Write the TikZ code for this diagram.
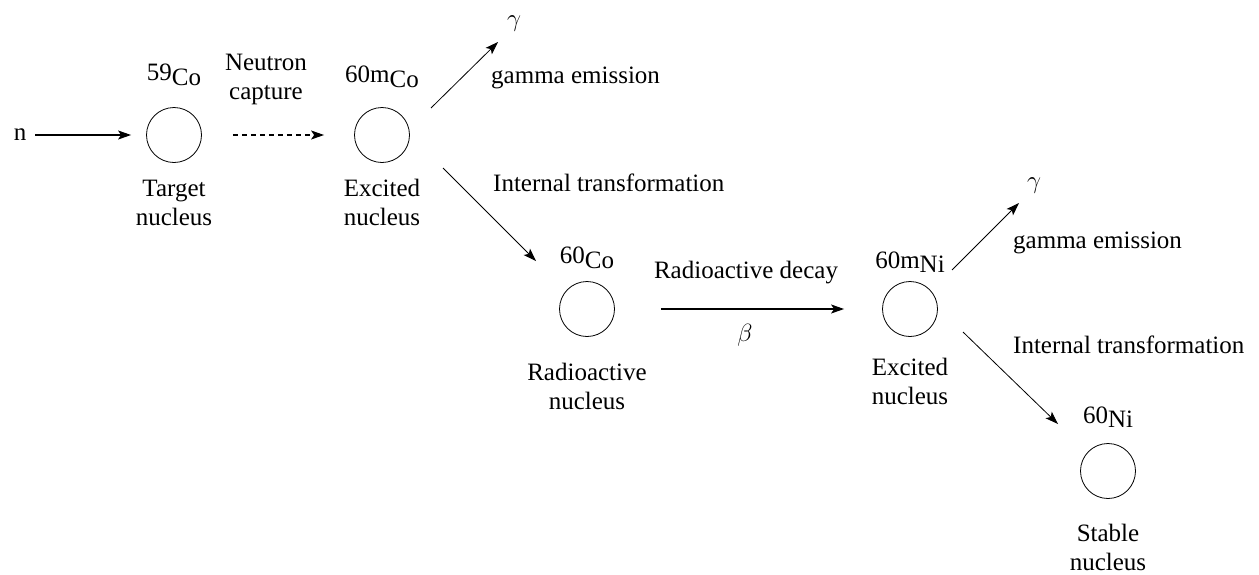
\documentclass[tikz,border=0pt]{standalone}
\usepackage{fontspec}
\setmainfont{Liberation Serif}
\usetikzlibrary{arrows.meta,positioning}
\newcommand{\iso}[2]{#1\raisebox{-0.4ex}{#2}}
\tikzset{
  nucleus/.style={circle,draw,line width=0.8pt,minimum size=55pt,inner sep=0pt},
  txt/.style={font=\rmfamily\fontsize{25}{29}\selectfont,inner sep=0pt},
  desc/.style={txt,align=center},
  flow/.style={-{Stealth[length=13pt,width=9pt,inset=3pt]},line width=1.1pt},
  slant/.style={flow,line width=0.8pt},
}

\begin{document}
\begin{tikzpicture}[x=1pt,y=-1pt]
    \useasboundingbox (0,0) rectangle (1259,574);
    \node[txt] (nIn) at (20,135) {n};
    \node[nucleus] (tgt) at (174,135) {};
    \node[nucleus] (exc1) at (382,135) {};
    \node[nucleus] (rad) at (587,309) {};
    \node[nucleus] (exc2) at (910,309) {};
    \node[nucleus] (stb) at (1108,471) {};
    \node[txt] (tgtIso) at (174,75) {\iso{59}{Co}};
    \node[txt] (exc1Iso) at (382,77) {\iso{60m}{Co}};
    \node[txt] (radIso) at (587,258) {\iso{60}{Co}};
    \node[txt] (exc2Iso) at (910,262) {\iso{60m}{Ni}};
    \node[txt] (stbIso) at (1108,417) {\iso{60}{Ni}};
    \node[desc] (tgtName) at (174,203) {Target\\nucleus};
    \node[desc] (exc1Name) at (382,202) {Excited\\nucleus};
    \node[desc] (radName) at (587,386) {Radioactive\\nucleus};
    \node[desc] (exc2Name) at (910,381) {Excited\\nucleus};
    \node[desc] (stbName) at (1108,547) {Stable\\nucleus};
    \node[desc] (capture) at (266,79) {Neutron\\capture};
    \node[txt] (decay) at (746,273) {Radioactive decay};
    \node[txt] (beta) at (745,335) {$\beta$};
    \node[txt] (gam1) at (514,24) {$\gamma$};
    \node[txt] (gam2) at (1034,186) {$\gamma$};
    \node[txt,anchor=west] (emit1) at (491,78) {gamma emission};
    \node[txt,anchor=west] (emit2) at (1013,243) {gamma emission};
    \node[txt,anchor=west] (trans1) at (493,183) {Internal transformation};
    \node[txt,anchor=west] (trans2) at (1013,345) {Internal transformation};
    \coordinate (g1s) at (431,108);
    \coordinate (g1e) at (498,42);
    \coordinate (g2s) at (952,270);
    \coordinate (g2e) at (1019,203);
    \coordinate (t1s) at (443,168);
    \coordinate (t1e) at (536,261);
    \coordinate (t2s) at (963,332);
    \coordinate (t2e) at (1058,424);
    \draw[flow,shorten <=9pt,shorten >=15pt] (nIn.east) -- (tgt.west);
    \draw[flow,dash pattern=on 5pt off 4pt,shorten <=31pt,shorten >=30pt] (tgt.east) -- (exc1.west);
    \draw[flow,shorten <=46pt,shorten >=38pt] (rad.east) -- (exc2.west);
    \draw[slant] (g1s) -- (g1e);
    \draw[slant] (t1s) -- (t1e);
    \draw[slant] (g2s) -- (g2e);
    \draw[slant] (t2s) -- (t2e);
\end{tikzpicture}
\end{document}
